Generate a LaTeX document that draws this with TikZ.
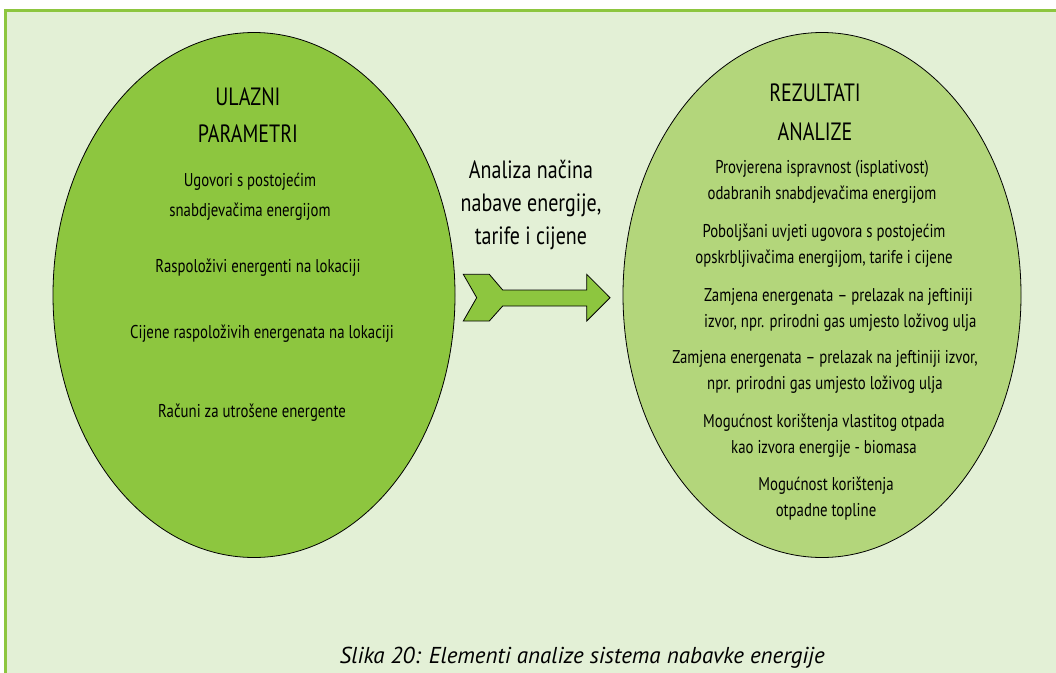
\documentclass[tikz,border=0pt]{standalone}
\usepackage{fontspec}
\setmainfont{PT Sans}
\newfontfamily\narrowfont[FakeStretch=0.8]{PT Sans}
\usetikzlibrary{shapes.geometric}
\definecolor{framegreen}{HTML}{8DC63F}
\definecolor{palegreen}{HTML}{E3F0D6}
\definecolor{lightgreen}{HTML}{B3D67B}

\begin{document}
\begin{tikzpicture}[x=1pt,y=-1pt,
	oval/.style={ellipse,draw=black,line width=0.8pt,minimum width=402pt,minimum height=525pt,inner sep=0pt},
	head/.style={font=\narrowfont\fontsize{25}{38}\selectfont,align=center,inner sep=0pt},
	item/.style={font=\narrowfont\fontsize{18.5}{26}\selectfont,align=center,inner sep=0pt}]

\def\FILLONE{framegreen}
\def\FILLTWO{lightgreen}
	\useasboundingbox (0,0) rectangle (1056,672);
	\clip (0,0) rectangle (1056,672);
	\draw[framegreen,line width=3pt,fill=palegreen] (5.5,10.5) rectangle (1080,700);

	\node[oval,fill=\FILLONE] (ulazni) at (254,295) {};
	\node[oval,fill=\FILLTWO,minimum width=398pt] (rezultati) at (822,295) {};

	\node[head,font=\narrowfont\fontsize{25}{37}\selectfont] (ulaznihead) at (248,115.5) {ULAZNI\\PARAMETRI};
	\node[item,font=\narrowfont\fontsize{18.5}{30}\selectfont] (ugovori) at (250,197) {Ugovori s postojećim\\snabdjevačima energijom};
	\node[item] (raspolozivi) at (258,268) {Raspoloživi energenti na lokaciji};
	\node[item] (cijene) at (262,334) {Cijene raspoloživih energenata na lokaciji};
	\node[item] (racuni) at (252,413) {Računi za utrošene energente};

	\node[head,font=\narrowfont\fontsize{25}{39}\selectfont] (rezultatihead) at (815,112.5) {REZULTATI\\ANALIZE};
	\node[item] (provjerena) at (822,182) {Provjerena ispravnost (isplativost)\\odabranih snabdjevačima energijom};
	\node[item] (poboljsani) at (824,245.5) {Poboljšani uvjeti ugovora s postojećim\\opskrbljivačima energijom, tarife i cijene};
	\node[item,align=left,anchor=west] (zamjenaone) at (704,309.5) {Zamjena energenata – prelazak na jeftiniji\\izvor, npr. prirodni gas umjesto loživog ulja};
	\node[item] (zamjenatwo) at (825,372) {Zamjena energenata – prelazak na jeftiniji izvor,\\npr. prirodni gas umjesto loživog ulja};
	\node[item] (otpad) at (824,435.5) {Mogućnost korištenja vlastitog otpada\\kao izvora energije - biomasa};
	\node[item] (toplina) at (826,499) {Mogućnost korištenja\\otpadne topline};

	\node[font=\narrowfont\fontsize{25}{33}\selectfont,align=center,inner sep=0pt] (analiza) at (531,205) {Analiza načina\\nabave energije,\\tarife i cijene};
	\draw[fill=\FILLONE,draw=black,line width=0.8pt] (463.3,274.3) -- (489.3,274.3) -- (502.7,290) -- (586.7,290) -- (586.7,274.3) -- (610,297.7) -- (586.7,321) -- (586.7,306) -- (502.7,306) -- (489.3,321) -- (463.3,321) -- (476.7,297.7) -- cycle;

	\node[font=\itshape\fontsize{23}{27}\selectfont,inner sep=0pt,anchor=east] (slika) at (825,658) {Slika 20: Elementi analize sistema nabavke energije};

\end{tikzpicture}
\end{document}
